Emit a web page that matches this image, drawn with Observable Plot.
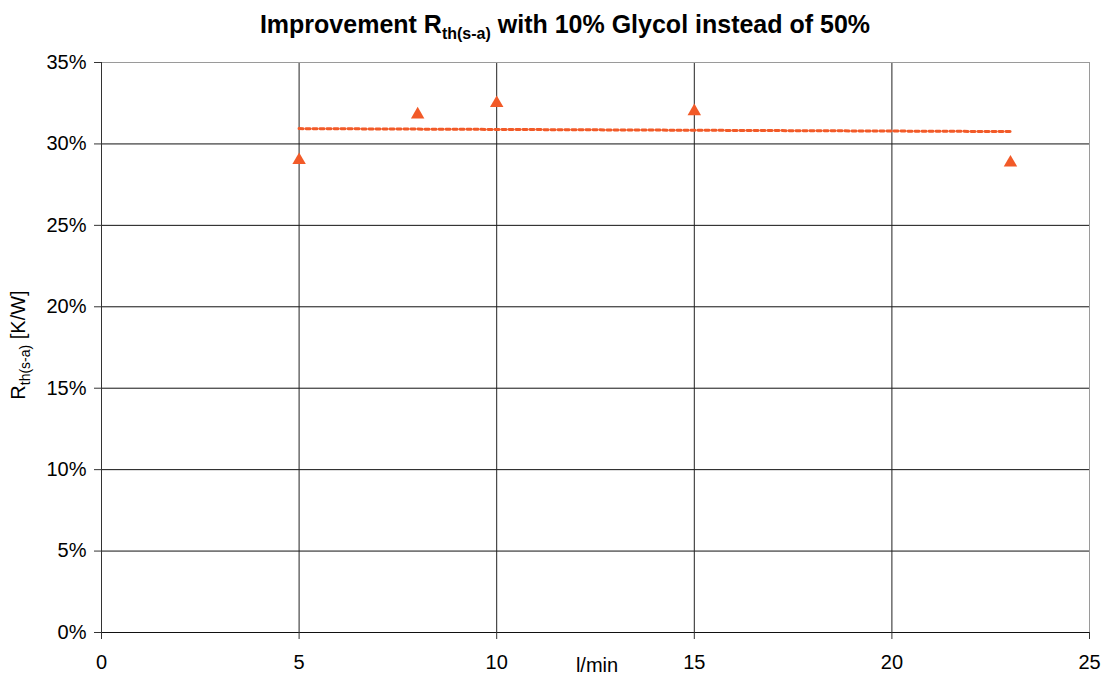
<!DOCTYPE html>
<html>
<head>
<meta charset="utf-8">
<script src="https://cdn.jsdelivr.net/npm/d3@7"></script>
<script src="https://cdn.jsdelivr.net/npm/@observablehq/plot@0.6"></script>
<style>
  html, body { margin: 0; padding: 0; background: #fff; }
  svg { font-family: "Liberation Sans", Arial, sans-serif; }
</style>
</head>
<body>
<div id="chart"></div>
<script>
// Data
const flow = [5, 8, 10, 15, 23];                     // l/min
const improvement = [0.290, 0.318, 0.325, 0.320, 0.2885]; // fraction
const trendFlow = [5, 23];
const trendValue = [0.3094, 0.3076];
const xTicks = [0, 5, 10, 15, 20, 25];
const yTicks = [0, 0.05, 0.10, 0.15, 0.20, 0.25, 0.30, 0.35];

const points = flow.map((x, i) => ({x, y: improvement[i]}));
const trend = trendFlow.map((x, i) => ({x, y: trendValue[i]}));
const color = "#f25a28";

const plot = Plot.plot({
  width: 1104,
  height: 675,
  marginLeft: 101,
  marginRight: 15,
  marginTop: 62,
  marginBottom: 43,
  style: {fontFamily: "Liberation Sans, Arial, sans-serif", fontSize: "20px", background: "#fff", overflow: "visible"},
  x: {domain: [0, 25], ticks: xTicks},
  y: {domain: [0, 0.35], ticks: yTicks},
  marks: [
    Plot.ruleY(yTicks.filter(d => d > 0 && d < 0.35), {stroke: "#111", strokeWidth: 1}),
    Plot.ruleX(xTicks.filter(d => d > 0 && d < 25), {stroke: "#222", strokeWidth: 1}),
    Plot.ruleY([0.35], {stroke: "#9a9a9a", strokeWidth: 1}),
    Plot.ruleX([25], {stroke: "#9a9a9a", strokeWidth: 1}),
    Plot.ruleY([0], {stroke: "#111", strokeWidth: 1}),
    Plot.ruleX([0], {stroke: "#333", strokeWidth: 1}),
    Plot.axisY({ticks: yTicks, tickSize: 7, tickPadding: 8, tickFormat: d => Math.round(d * 100) + "%", label: null, fontSize: 20, stroke: "#333"}),
    Plot.axisX({ticks: xTicks, tickSize: 7, tickPadding: 15, tickFormat: d => String(d), label: null, fontSize: 20, stroke: "#333"}),
    Plot.line(trend, {x: "x", y: "y", stroke: color, strokeWidth: 3, strokeDasharray: "4,3"}),
    Plot.dot(points, {x: "x", y: "y", symbol: "triangle", r: 5, fill: color, stroke: "none"})
  ]
});

document.getElementById("chart").appendChild(plot);

const svg = d3.select(plot);
// Title
const title = svg.append("text")
  .attr("x", 565).attr("y", 33)
  .attr("text-anchor", "middle")
  .attr("font-size", 25).attr("font-weight", "bold").attr("fill", "#000");
title.append("tspan").text("Improvement R");
title.append("tspan").attr("font-size", 16).attr("dy", 6).text("th(s-a)");
title.append("tspan").attr("dy", -6).text(" with 10% Glycol instead of 50%");

// Y label
const yl = svg.append("text")
  .attr("transform", "translate(25,345) rotate(-90)")
  .attr("text-anchor", "middle")
  .attr("font-size", 20).attr("fill", "#000");
yl.append("tspan").text("R");
yl.append("tspan").attr("font-size", 14).attr("dy", 5).text("th(s-a)");
yl.append("tspan").attr("dy", -5).text(" [K/W]");

// X label
svg.append("text")
  .attr("x", 597).attr("y", 672)
  .attr("text-anchor", "middle")
  .attr("font-size", 20).attr("fill", "#000")
  .text("l/min");
</script>
</body>
</html>
